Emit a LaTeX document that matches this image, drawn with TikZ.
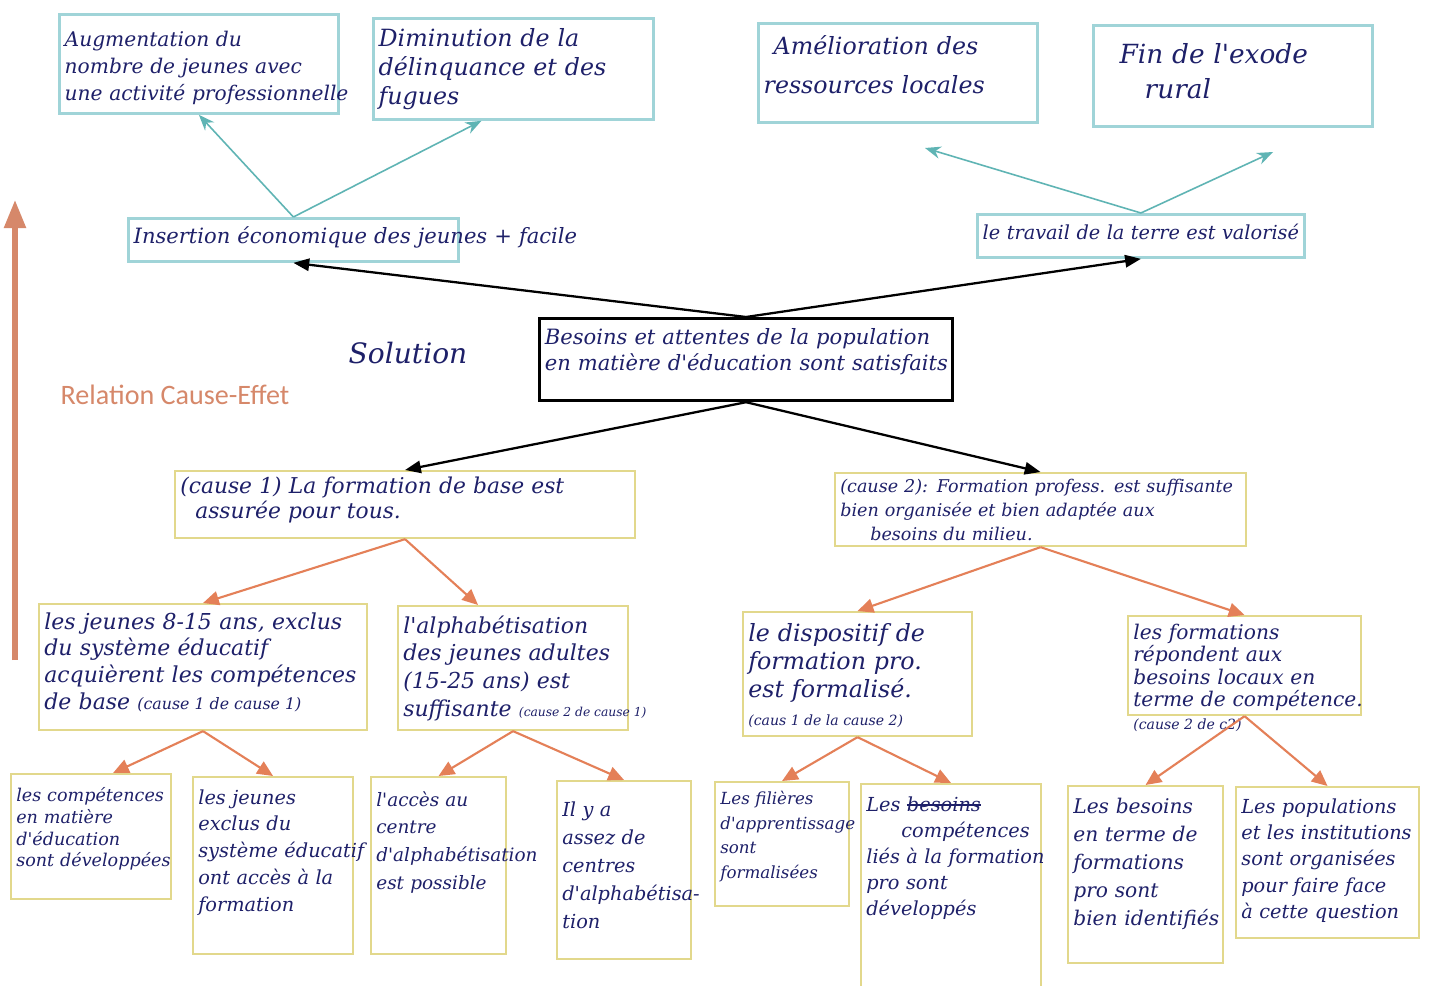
\documentclass[tikz,border=0pt]{standalone}
\usepackage{fontspec}
\usetikzlibrary{arrows.meta}
\newfontfamily\calibri{Carlito}
\newfontfamily\handfont{DejaVu Serif}
\definecolor{ink}{RGB}{30,32,105}
\definecolor{tealbd}{RGB}{160,212,216}
\definecolor{tealarr}{RGB}{95,180,180}
\definecolor{yelbd}{RGB}{226,216,140}
\definecolor{orarr}{RGB}{228,128,88}
\definecolor{ceff}{RGB}{214,136,106}
\newcommand\barred[1]{\setbox0\hbox{#1}\rlap{\raisebox{0.55ex}{\rule{\wd0}{0.7pt}}}\box0}
\newcommand\smallnote[2]{{#1\spaceskip=0pt\relax #2}}

\tikzset{
    fs/.style 2 args={font=\handfont\itshape\fontsize{#1}{#2}\selectfont},
    hand/.style={text=ink, fs={11}{14}},
    box/.style={hand, anchor=north west, align=left, inner xsep=3pt, inner ysep=4pt, text height=0.4cm},
    tbox/.style={box, draw=tealbd, line width=1.6pt},
    ybox/.style={box, draw=yelbd, line width=1.2pt},
    mbox/.style={box, draw=black, line width=1.8pt},
    tarr/.style={draw=tealarr, line width=0.9pt, -{Stealth[length=9pt,width=7pt]}},
    barr/.style={draw=black, line width=1.3pt, -{Triangle[length=9pt,width=7pt]}},
    oarr/.style={draw=orarr, line width=1.2pt, -{Triangle[length=9pt,width=8pt]}},
}

\begin{document}
\begin{tikzpicture}[x=0.02cm, y=-0.02cm]
    \fill[white] (0,0) rectangle (1430,986);
    \useasboundingbox (0,0) rectangle (1430,986);
    % effets
    \node[tbox, fs={11.5}{15.5}, text width=5.37cm, text height=0.5cm, text depth=1.20cm] (aug) at (58,13) {Augmentation du\\ nombre de jeunes avec\\ \mbox{une activité professionnelle}};
    \node[tbox, fs={13.5}{16.5}, text width=5.39cm, text height=0.42cm, text depth=1.32cm] (dimi) at (372,17) {Diminution de la\\ \mbox{délinquance et des}\\ fugues};
    \node[tbox, fs={13.5}{22}, text width=5.37cm, text height=0.48cm, text depth=1.22cm] (amel) at (757,22) {\hspace*{0.2cm}Amélioration des\\ \mbox{ressources locales}};
    \node[tbox, fs={15}{20}, text width=5.37cm, text height=0.62cm, text depth=1.12cm] (exode) at (1092,24) {\hspace*{0.42cm}Fin de l'exode\\ \hspace*{0.92cm}rural};
    \node[tbox, fs={12}{14}, text width=6.39cm, text height=0.36cm, text depth=0.22cm] (insert) at (127,217) {\rlap{Insertion économique des jeunes + facile}};
    \node[tbox, fs={11}{14}, text width=6.33cm, text height=0.36cm, text depth=0.22cm] (terre) at (976,213) {\mbox{le travail de la terre est valorisé}};
    % solution
    \node[mbox, fs={12}{14.5}, text width=8.05cm, text height=0.38cm, text depth=0.98cm] (besoins) at (538,317) {\mbox{Besoins et attentes de la population}\\ \mbox{en matière d'éducation sont satisfaits}};
    \node[hand, fs={16}{20}] (sol) at (408,353) {Solution};
    \node[text=ceff, font=\calibri\fontsize{16}{19}\selectfont] (rel) at (175,395) {Relation Cause-Effet};
    \coordinate (ce0) at (15,660);
    \coordinate (ce1) at (15,200);
    \draw[ceff, line width=3pt, -{Triangle[length=16pt,width=12pt]}] (ce0) -- (ce1);
    % causes
    \node[ybox, fs={12.4}{14.5}, text width=8.99cm, text height=0.30cm, text depth=0.76cm] (cause1) at (174,470) {\mbox{(cause 1) La formation de base est}\\ \hspace*{0.3cm}assurée pour tous.};
    \node[ybox, fs={10}{13.5}, text width=8.01cm, text height=0.25cm, text depth=0.93cm] (cause2) at (834,472) {\mbox{(cause 2): Formation profess. est suffisante}\\ \mbox{bien organisée et bien adaptée aux}\\ \hspace*{0.6cm}besoins du milieu.};
    \node[ybox, fs={12.5}{15.3}, text width=6.35cm, text height=0.36cm, text depth=1.88cm] (jeunes) at (38,603) {\mbox{les jeunes 8-15 ans, exclus}\\ du système éducatif\\ \mbox{acquièrent les compétences}\\ \mbox{de base \smallnote{\small}{(cause 1 de cause 1)}}};
    \node[ybox, fs={12.5}{15.8}, text width=4.39cm, text height=0.40cm, text depth=1.80cm] (alpha) at (397,605) {l'alphabétisation\\ \mbox{des jeunes adultes}\\ (15-25 ans) est\\ \mbox{suffisante \smallnote{\scriptsize}{(cause 2 de cause 1)}}};
    \node[ybox, fs={13.5}{16}, text width=4.37cm, text height=0.44cm, text depth=1.76cm] (dispo) at (742,611) {\mbox{le dispositif de}\\ \mbox{formation pro.}\\ est formalisé.\\ \mbox{\smallnote{\footnotesize}{(caus 1 de la cause 2)}}};
    \node[ybox, fs={11.5}{12.8}, text width=4.45cm, text height=0.32cm, text depth=1.38cm] (repond) at (1127,615) {les formations\\ \mbox{répondent aux}\\ \mbox{besoins locaux en}\\ \mbox{terme de compétence.}\\ \mbox{\smallnote{\footnotesize}{(cause 2 de c2)}}};
    \node[ybox, fs={10}{12.5}, text width=2.99cm, text height=0.40cm, text depth=1.82cm] (compet) at (10,773) {\mbox{les compétences}\\ en matière\\ d'éducation\\ \mbox{sont développées}};
    \node[ybox, fs={11}{15.3}, text width=2.99cm, text height=0.40cm, text depth=2.86cm] (exclus) at (192,776) {les jeunes\\ exclus du\\ \mbox{système éducatif}\\ \mbox{ont accès à la}\\ formation};
    \node[ybox, fs={10.5}{15.8}, text width=2.49cm, text height=0.44cm, text depth=2.82cm] (acces) at (370,776) {l'accès au\\ centre\\ d'alphabétisation\\ \mbox{est possible}};
    \node[ybox, fs={11}{16}, text width=2.47cm, text height=0.56cm, text depth=2.72cm] (assez) at (556,780) {Il y a\\ assez de\\ centres\\ \mbox{d'alphabétisa-}\\ tion};
    \node[ybox, fs={9.5}{14.2}, text width=2.47cm, text height=0.30cm, text depth=1.90cm] (filieres) at (714,781) {Les filières\\ d'apprentissage\\ sont\\ formalisées};
    \node[ybox, fs={11}{14.8}, text width=3.39cm, text height=0.40cm, text depth=3.38cm] (liees) at (860,783) {Les \barred{besoins}\\ \hspace*{0.7cm}compétences\\ \mbox{liés à la formation}\\ pro sont\\ développés};
    \node[ybox, fs={11.5}{16}, text width=2.89cm, text height=0.40cm, text depth=2.86cm] (identif) at (1067,785) {Les besoins\\ en terme de\\ formations\\ pro sont\\ \mbox{bien identifiés}};
    \node[ybox, fs={11}{15}, text width=3.45cm, text height=0.38cm, text depth=2.36cm] (orga) at (1235,786) {\mbox{Les populations}\\ \mbox{et les institutions}\\ \mbox{sont organisées}\\ \mbox{pour faire face}\\ \mbox{à cette question}};
    % fleches
    \coordinate (amelend) at (925,148);
    \coordinate (exodeend) at (1273,152);
    \draw[tarr] (insert.north) -- (aug.south);
    \draw[tarr] (insert.north) -- ([xshift=-0.64cm]dimi.south);
    \draw[tarr] (terre.north) -- (amelend);
    \draw[tarr] (terre.north) -- (exodeend);
    \foreach \t in {insert,terre} {
        \draw[barr] (besoins.north) -- (\t.south);
    }
    \foreach \t in {cause1,cause2} {
        \draw[barr] (besoins.south) -- (\t.north);
    }
    \foreach \a/\b in {cause1/jeunes,cause2/dispo,cause2/repond,jeunes/exclus,alpha/acces,alpha/assez,dispo/filieres,dispo/liees,repond/identif,repond/orga} {
        \draw[oarr] (\a.south) -- (\b.north);
    }
    \draw[oarr] (cause1.south) -- ([xshift=-0.7cm]alpha.north);
    \draw[oarr] (jeunes.south) -- ([xshift=0.44cm]compet.north);
\end{tikzpicture}
\end{document}
